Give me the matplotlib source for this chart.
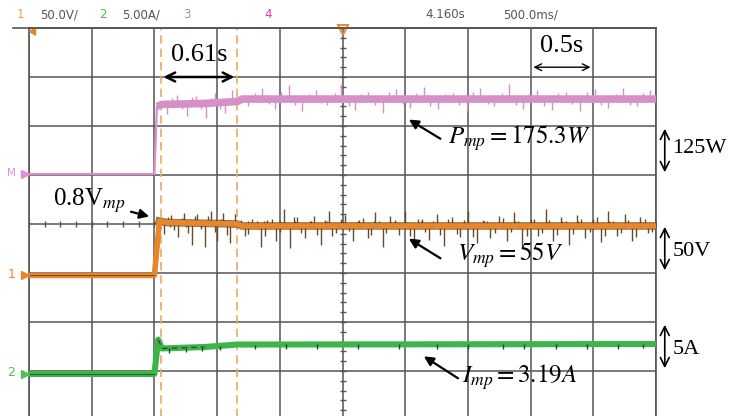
import matplotlib
matplotlib.use("Agg")
import matplotlib.pyplot as plt
from matplotlib.lines import Line2D

# oscilloscope screen: 10 x 0.5 s horizontally, 8 divisions vertically
# all trace levels are in screen divisions (0 = centre line)
t_div = 0.5
n_tdiv = 10

# math channel (power), 125 W/div, ground at +1 div
p_t = [0.0, 1.00, 1.02, 1.06, 1.40, 1.66, 1.70, 5.0]
p_lvl = [1.02, 1.02, 2.40, 2.44, 2.46, 2.50, 2.55, 2.55]

# channel 1 (voltage), 50 V/div, ground at -1 div
v_t = [0.0, 1.00, 1.04, 1.10, 1.66, 1.70, 5.0]
v_lvl = [-1.05, -1.05, 0.06, 0.03, 0.00, -0.04, -0.04]

# channel 2 (current), 5 A/div, ground at -3 div
i_t = [0.0, 1.00, 1.03, 1.06, 1.40, 1.66, 5.0]
i_lvl = [-3.06, -3.06, -2.36, -2.54, -2.51, -2.46, -2.45]

# noise spikes (time s, height div relative to trace)
v_spk_t = [1.08, 1.13, 1.19, 1.24, 1.30, 1.34, 1.40, 1.45, 1.50, 1.55, 1.60, 1.64,
           1.72, 1.78, 1.85, 1.90, 1.97, 2.03, 2.08, 2.14, 2.20, 2.27, 2.33, 2.39,
           2.45, 2.52, 2.58, 2.63, 2.70, 2.76, 2.82, 2.88, 2.95, 3.00, 3.07, 3.13,
           3.19, 3.25, 3.31, 3.37, 3.44, 3.50, 3.57, 3.62, 3.68, 3.75, 3.81, 3.87,
           3.93, 4.00, 4.06, 4.12, 4.18, 4.24, 4.31, 4.37, 4.43, 4.50, 4.56, 4.62,
           4.69, 4.75, 4.81, 4.87, 4.94]
v_spk_h = [-0.25, 0.15, -0.30, 0.20, -0.45, 0.18, -0.48, 0.25, -0.35, 0.22, -0.40, 0.20,
           -0.20, 0.15, -0.42, 0.12, -0.30, 0.35, -0.45, 0.18, -0.25, 0.20, -0.38, 0.30,
           -0.15, 0.22, -0.30, 0.12, -0.25, 0.28, -0.42, 0.20, -0.18, 0.30, -0.35, 0.15,
           -0.28, 0.25, -0.40, 0.18, -0.22, 0.30, -0.35, 0.12, -0.25, 0.20, -0.30, 0.28,
           -0.45, 0.15, -0.20, 0.35, -0.30, 0.18, -0.38, 0.22, -0.25, 0.15, -0.32, 0.30,
           -0.20, 0.25, -0.30, 0.18, -0.15]
# smaller in-between spikes
v_spk2_t = [1.11, 1.16, 1.22, 1.27, 1.32, 1.37, 1.43, 1.48, 1.53, 1.58, 1.69, 1.75,
            1.82, 1.88, 1.94, 2.00, 2.11, 2.17, 2.24, 2.30, 2.36, 2.42, 2.49, 2.55,
            2.66, 2.73, 2.79, 2.85, 2.92, 3.04, 3.10, 3.16, 3.22, 3.28, 3.34, 3.41,
            3.47, 3.54, 3.65, 3.72, 3.78, 3.84, 3.90, 3.97, 4.03, 4.09, 4.15, 4.21,
            4.28, 4.34, 4.40, 4.47, 4.53, 4.59, 4.66, 4.72, 4.78, 4.84, 4.91, 4.97]
v_spk2_h = [0.12, -0.15, 0.10, -0.20, 0.14, -0.12, 0.16, -0.18, 0.10, -0.22, 0.12, -0.16,
            0.10, -0.20, 0.14, -0.12, 0.18, -0.15, 0.10, -0.18, 0.12, -0.20, 0.14, -0.10,
            0.16, -0.18, 0.10, -0.14, 0.12, -0.20, 0.15, -0.12, 0.10, -0.18, 0.14, -0.16,
            0.12, -0.22, 0.10, -0.14, 0.16, -0.12, 0.10, -0.20, 0.14, -0.15, 0.12, -0.18,
            0.10, -0.16, 0.14, -0.12, 0.18, -0.20, 0.10, -0.15, 0.12, -0.22, 0.14, -0.12]

p_spk_t = [1.10, 1.18, 1.26, 1.33, 1.41, 1.48, 1.56, 1.62, 1.75, 1.86, 1.96, 2.07,
           2.18, 2.29, 2.38, 2.49, 2.60, 2.70, 2.82, 2.93, 3.04, 3.15, 3.26, 3.38,
           3.49, 3.60, 3.71, 3.83, 3.94, 4.05, 4.17, 4.28, 4.39, 4.51, 4.62, 4.74, 4.85, 4.95]
p_spk_h = [-0.20, 0.18, -0.25, 0.15, -0.30, 0.20, -0.22, 0.25, -0.15, 0.22, -0.20, 0.28,
           -0.25, 0.18, -0.12, 0.30, -0.22, 0.15, -0.28, 0.20, -0.18, 0.25, -0.20, 0.12,
           -0.25, 0.22, -0.15, 0.30, -0.20, 0.18, -0.22, 0.15, -0.25, 0.20, -0.18, 0.22,
           -0.15, 0.18]
p_spk2_t = [1.14, 1.22, 1.30, 1.37, 1.45, 1.52, 1.80, 1.91, 2.01, 2.12, 2.23, 2.33,
            2.44, 2.55, 2.65, 2.76, 2.87, 2.98, 3.09, 3.20, 3.32, 3.43, 3.54, 3.66,
            3.77, 3.88, 3.99, 4.11, 4.22, 4.33, 4.45, 4.56, 4.68, 4.79, 4.90]
p_spk2_h = [0.12, -0.10, 0.14, -0.12, 0.10, -0.14, 0.12, -0.10, 0.14, -0.12, 0.10, -0.08,
            0.12, -0.14, 0.10, -0.12, 0.14, -0.10, 0.12, -0.14, 0.10, -0.12, 0.14, -0.10,
            0.12, -0.12, 0.10, -0.14, 0.12, -0.10, 0.14, -0.12, 0.10, -0.12, 0.12]

i_spk_t = [1.12, 1.25, 1.38, 1.52, 1.80, 2.05, 2.30, 2.62, 2.95, 3.25, 3.50, 3.78,
           3.95, 4.20, 4.45, 4.70, 4.90]

# time markers (dashed cursors)
cursor_t = [1.05, 1.66]

ORANGE = "#e8872a"
GREEN = "#3db54a"
PINK = "#d690c8"
GRID = "#555555"

plt.rcParams["mathtext.fontset"] = "stix"
SERIF = "Liberation Serif"

fig = plt.figure(figsize=(7.29, 4.16), dpi=100)
W, H = 729, 416
ax = fig.add_axes([29 / W, -4 / H, 627 / W, 392 / H])
ax.set_xlim(0, t_div * n_tdiv)
ax.set_ylim(-4, 4)
ax.set_xticks([])
ax.set_yticks([])
for s in ax.spines.values():
    s.set_color(GRID)
    s.set_linewidth(1.2)

# graticule
for k in range(n_tdiv + 1):
    ax.axvline(k * t_div, color=GRID, lw=1.1, zorder=1)
for k in range(-4, 5):
    ax.axhline(k, color=GRID, lw=1.1, zorder=1)
tx = [k * t_div / 4 for k in range(4 * n_tdiv + 1)]
ax.plot(tx, [0] * len(tx), ls="none", marker="|", ms=5, mew=1.0, color=GRID, zorder=1)
ty = [k / 5 for k in range(-20, 21)]
ax.plot([2.5] * len(ty), ty, ls="none", marker="_", ms=5, mew=1.0, color=GRID, zorder=1)

for c in cursor_t:
    ax.axvline(c, color="#f0a860", lw=1.2, ls=(0, (5, 3)), zorder=2)


def level_at(ts, ls, x):
    for j in range(len(ts) - 1):
        if ts[j] <= x <= ts[j + 1]:
            f = (x - ts[j]) / (ts[j + 1] - ts[j])
            return ls[j] + f * (ls[j + 1] - ls[j])
    return ls[-1]


def spikes(ts, ls, st, sh, **kw):
    base = [level_at(ts, ls, x) for x in st]
    ax.vlines(st, base, [b + h for b, h in zip(base, sh)], **kw)


# power trace
ax.plot(p_t[:3], p_lvl[:3], color=PINK, lw=1.6, zorder=3)
spikes(p_t, p_lvl, p_spk_t, p_spk_h, color=PINK, lw=1.0, zorder=3)
spikes(p_t, p_lvl, p_spk2_t, p_spk2_h, color=PINK, lw=1.0, zorder=3)
ax.plot(p_t[2:], p_lvl[2:], color=PINK, lw=5.5, solid_capstyle="butt", zorder=4)

# voltage trace
spikes(v_t, v_lvl, v_spk_t, v_spk_h, color="#6b4a2a", lw=1.0, zorder=3)
spikes(v_t, v_lvl, v_spk2_t, v_spk2_h, color="#6b4a2a", lw=1.0, zorder=3)
ax.plot(v_t[2:], v_lvl[2:], color="#5a3a1a", lw=5.5, alpha=0.7, zorder=3)
ax.plot(v_t, v_lvl, color=ORANGE, lw=4.0, zorder=4)
ax.plot(v_t[:2], v_lvl[:2], color="#8a4a10", lw=0.8, zorder=5)

# current trace
ax.plot(i_t, i_lvl, color=GREEN, lw=4.4, zorder=4)
ax.plot(i_t[:2], i_lvl[:2], color="#1f6a2a", lw=0.8, zorder=5)
ax.plot(i_t[2:5], i_lvl[2:5], color="#1f5a25", lw=1.0, ls=(0, (4, 3)), zorder=5)
base = [level_at(i_t, i_lvl, x) for x in i_spk_t]
ax.vlines(i_spk_t, [b - 0.09 for b in base], base, color="#1f4a25", lw=1.0, zorder=5)

# ground / trigger markers
mk = dict(clip_on=False, zorder=6)
ax.plot([-0.03], [1.02], marker=">", ms=6, color="#e090d0", **mk)
ax.text(-0.14, 1.04, "M", color="#e090d0", fontsize=7.5, ha="center", va="center", clip_on=False)
ax.plot([-0.03], [-1.05], marker=">", ms=6, color=ORANGE, **mk)
ax.text(-0.14, -1.03, "1", color=ORANGE, fontsize=9, ha="center", va="center", clip_on=False)
ax.plot([-0.03], [-3.06], marker=">", ms=6, color="#50c050", **mk)
ax.text(-0.14, -3.04, "2", color="#50c050", fontsize=9, ha="center", va="center", clip_on=False)
ax.plot([0.03], [3.94], marker=(3, 0, 210), ms=6, color=ORANGE, **mk)
ax.plot([2.5], [3.96], marker="v", ms=7, mfc="none", mec=ORANGE, mew=1.4, **mk)

# top frame line extends left of the graticule
fig.add_artist(Line2D([13 / W, 656 / W], [1 - 28 / H] * 2, color=GRID, lw=1.2))

# header
hy = 1 - 15 / H
hdr = dict(fontsize=8.5, va="center", family="DejaVu Sans")
fig.text(20 / W, hy, "1", color="#f0a050", ha="center", **hdr)
fig.text(40 / W, hy, "50.0V/", color="#555555", ha="left", **hdr)
fig.text(103 / W, hy, "2", color="#50b848", ha="center", **hdr)
fig.text(122 / W, hy, "5.00A/", color="#555555", ha="left", **hdr)
fig.text(187 / W, hy, "3", color="#7a9ad0", ha="center", **hdr)
fig.text(268 / W, hy, "4", color="#e040a0", ha="center", **hdr)
fig.text(425 / W, hy, "4.160s", color="#555555", ha="left", **hdr)
fig.text(503 / W, hy, "500.0ms/", color="#555555", ha="left", **hdr)

# annotations
arr2 = dict(arrowstyle="<->", color="black", lw=1.8, mutation_scale=16)
ax.annotate("", xy=(cursor_t[0], 3.0), xytext=(cursor_t[1], 3.0), arrowprops=arr2, zorder=7)
ax.text(sum(cursor_t) / 2, 3.45, "0.61s", fontsize=19, family=SERIF, ha="center", va="center")
ax.annotate("", xy=(4.0, 3.2), xytext=(4.5, 3.2),
            arrowprops=dict(arrowstyle="<->", color="black", lw=1.0, mutation_scale=12), zorder=7)
ax.text(4.25, 3.63, "0.5s", fontsize=19, family=SERIF, ha="center", va="center",
        bbox=dict(fc="white", ec="none", pad=0.5))

pt = dict(arrowstyle="-|>", color="black", lw=1.6, mutation_scale=14)
ax.annotate("0.8V$_{mp}$", xy=(0.98, 0.14), xytext=(0.77, 0.47), fontsize=18, family=SERIF,
            ha="right", va="center", arrowprops=pt, annotation_clip=False)
ax.annotate("", xy=(3.01, 2.16), xytext=(3.30, 1.71), arrowprops=pt)
ax.text(3.34, 1.76, r"$P_{mp}=175.3W$", fontsize=18, ha="left", va="center")
ax.annotate("", xy=(3.01, -0.27), xytext=(3.30, -0.73), arrowprops=pt)
ax.text(3.41, -0.63, r"$V_{mp}=55V$", fontsize=18, ha="left", va="center")
ax.annotate("", xy=(3.13, -2.67), xytext=(3.44, -3.18), arrowprops=pt)
ax.text(3.45, -3.12, r"$I_{mp}=3.19A$", fontsize=18, ha="left", va="center")

vr = dict(arrowstyle="<->", color="black", lw=1.2, mutation_scale=16)
for top, bot, lab, ly in [(2.0, 1.0, "125W", 1.55), (0.0, -1.0, "50V", -0.57), (-2.0, -3.0, "5A", -2.57)]:
    ax.annotate("", xy=(5.07, top), xytext=(5.07, bot), arrowprops=vr, annotation_clip=False)
    ax.text(5.13, ly, lab, fontsize=16, family=SERIF, ha="left", va="center", clip_on=False)

fig.savefig("out.png", dpi=100)
